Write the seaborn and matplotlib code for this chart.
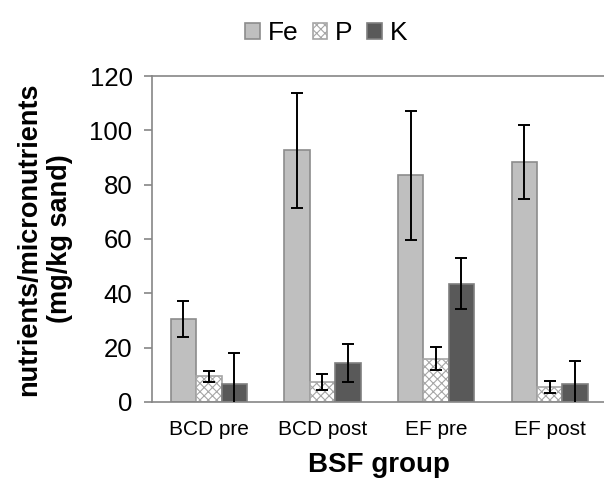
import matplotlib
matplotlib.use("Agg")
import matplotlib.pyplot as plt
import seaborn as sns
import pandas as pd
import numpy as np
from matplotlib.patches import Patch

groups = ["BCD pre", "BCD post", "EF pre", "EF post"]
nutrients = ["Fe", "P", "K"]
fe_mean = [30.6, 92.6, 83.5, 88.2]
fe_err = [6.6, 21.2, 23.7, 13.6]
p_mean = [9.5, 7.3, 16.0, 5.5]
p_err = [2.0, 2.9, 4.4, 2.3]
k_mean = [6.8, 14.4, 43.6, 6.8]
k_err = [11.4, 7.0, 9.4, 8.2]

means = {"Fe": fe_mean, "P": p_mean, "K": k_mean}
errs = {"Fe": fe_err, "P": p_err, "K": k_err}
rows = []
for n in nutrients:
    for g, v in zip(groups, means[n]):
        rows.append({"group": g, "nutrient": n, "value": v})
df = pd.DataFrame(rows)

sns.set_style("white")
plt.rcParams["font.family"] = ["Liberation Sans", "DejaVu Sans"]
plt.rcParams["hatch.linewidth"] = 0.8
plt.rcParams["text.color"] = "black"
plt.rcParams["axes.labelcolor"] = "black"
plt.rcParams["xtick.labelcolor"] = "black"
plt.rcParams["ytick.labelcolor"] = "black"

face = {"Fe": "#bfbfbf", "P": "#ffffff", "K": "#595959"}
edge = {"Fe": "#8c8c8c", "P": "#a6a6a6", "K": "#7f7f7f"}
spine_c = "#868686"

fig = plt.figure(figsize=(6.04, 4.78), dpi=100)
ax = fig.add_axes([0.2517, 0.159, 0.7525, 0.682])

sns.barplot(data=df, x="group", y="value", hue="nutrient", order=groups,
            hue_order=nutrients, palette=face, width=0.67, gap=0,
            errorbar=None, legend=False, ax=ax, saturation=1)

for cont, n in zip(ax.containers, nutrients):
    xs = []
    for p in cont:
        p.set_edgecolor(edge[n])
        p.set_linewidth(1.2)
        if n == "P":
            p.set_hatch("xxxx")
        xs.append(p.get_x() + p.get_width() / 2)
    ax.errorbar(xs, means[n], yerr=errs[n], fmt="none", ecolor="black",
                elinewidth=1.4, capsize=4.5, capthick=1.4, zorder=5)

ax.set_ylim(0, 120)
ax.set_xlim(-0.5, 3.5)
ax.set_yticks(np.arange(0, 121, 20))
ax.set_xticks([-0.5, 0.5, 1.5, 2.5], minor=True)
ax.tick_params(axis="x", which="major", length=0, labelsize=15, pad=13)
ax.tick_params(axis="x", which="minor", length=6, width=1.2, color=spine_c)
ax.tick_params(axis="y", which="major", length=6, width=1.2, color=spine_c,
               labelsize=18.5, direction="out", left=True, pad=8)
for s in ["left", "bottom", "top"]:
    ax.spines[s].set_visible(True)
    ax.spines[s].set_color(spine_c)
    ax.spines[s].set_linewidth(1.2)
ax.spines["right"].set_visible(False)

ax.set_xlabel("BSF group", fontsize=20, fontweight="bold", labelpad=9)
ax.set_ylabel("nutrients/micronutrients\n(mg/kg sand)", fontsize=19.5,
              fontweight="bold", labelpad=12, linespacing=1.25)

handles = [Patch(facecolor=face[n], edgecolor=edge[n], hatch="xxxx" if n == "P" else None,
                 linewidth=1.2) for n in nutrients]
fig.legend(handles, nutrients, loc="upper center", bbox_to_anchor=(0.54, 1.005),
           ncol=3, frameon=False, fontsize=19, handlelength=0.55, handleheight=0.55,
           handletextpad=0.3, columnspacing=0.55)

fig.savefig("out.png", dpi=100)
